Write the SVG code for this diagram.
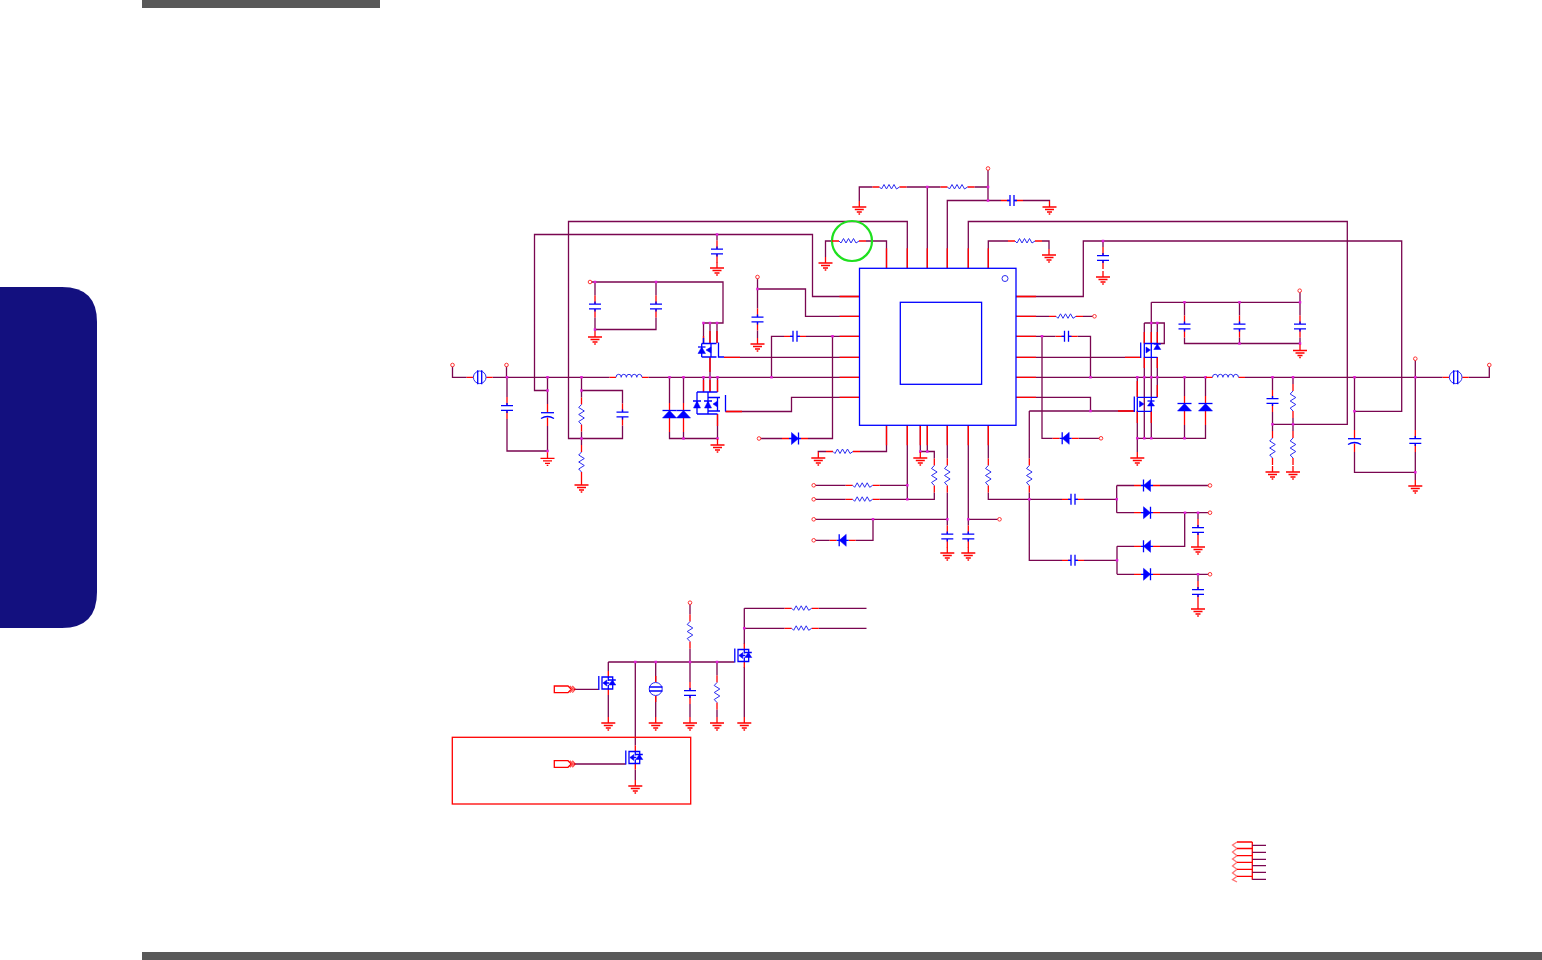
<svg xmlns="http://www.w3.org/2000/svg" width="1542" height="960" viewBox="0 0 1542 960">
<style>
.w{fill:none;stroke:#7a0650;stroke-width:1.300}
.r{fill:none;stroke:#f00;stroke-width:1.300}
.b{fill:none;stroke:#00f;stroke-width:1.300}
.z{fill:none;stroke:#2c2cf0;stroke-width:1}
.f{fill:#00f;stroke:#00f;stroke-width:.5}
.p{fill:#fff;stroke:#f33;stroke-width:1}
.j{fill:none;stroke:#e31fd8;stroke-width:2.500;stroke-linecap:square}
</style>
<defs>
<g id="rh"><path class="r" d="M-17 0H-10M10 0H17"/><path class="z" d="M-10 0L-8 2-5.500-2.500-3 2-.5-2.500 2 2 4.500-2.500 7 2 10 0"/></g>
<g id="rv"><path class="r" d="M0-17V-10M0 10V17"/><path class="z" d="M0-10L-2.800-7 2.800-3.500-2.800 0 2.800 3.500-2.800 7 0 10"/></g>
<g id="ch"><path class="r" d="M-11 0H-2.500M2.500 0H11"/><path class="b" d="M-2 0H-5M2 0H5M-2-5.500V5.500M2-5.500V5.500"/></g>
<g id="cv"><path class="r" d="M0-11V-2.500M0 2.500V11"/><path class="b" d="M0-2V-5M0 2V5M-6-2.300H6M-6 2.300H6"/></g>
<g id="cp"><path class="r" d="M0-11V-2.500M0 2.500V11"/><path class="b" d="M-6.500-2.300H6.500"/><path class="b" d="M-6.500 3.500Q0-.5 6.500 3.500"/></g>
<g id="gnd"><path class="r" d="M0-6V0M-7 0H7M-4.500 2.500H4.500M-2.500 5H2.500M-.8 7H.8"/></g>
<g id="dr"><path class="r" d="M-13 0H-6M6 0H13"/><path class="b" d="M-6 0H6M3.500-6V6"/><path class="f" d="M-3.500-6V6L3.500 0Z"/></g>
<g id="dl"><path class="r" d="M-13 0H-6M6 0H13"/><path class="b" d="M-6 0H6M-3.500-6V6"/><path class="f" d="M3.500-6V6L-3.500 0Z"/></g>
<g id="dv"><path class="r" d="M0-11V-3.500M0 4V18"/><path class="b" d="M-7-3.500H7"/><path class="f" d="M-7 4H7L0-3.500Z"/></g>
<g id="fuse"><path class="r" d="M-13 0H-6.500M6.500 0H13"/><circle r="6.300" fill="none" stroke="#2c2cf0" stroke-width="1"/><path class="b" d="M-2-7V7M2-7V7"/></g>
<g id="ind"><path class="r" d="M-19.500 0H-13M13 0H19.500"/><path class="z" d="M-13 0Q-13-3-10.300-3T-7.800 0Q-7.800-3-5.200-3T-2.600 0Q-2.600-3 0-3T2.600 0Q2.600-3 5.200-3T7.800 0Q7.800-3 10.300-3T13 0"/></g>
<g id="fet"><path class="r" d="M0-12V-6M0 6V12"/><path class="b" d="M-9.500-7V7"/><path class="b" d="M-6.300-6H4.400V6H-6.300ZM0-6V-2M0 6V2"/><path class="f" d="M-5.500 0L-1.500-3V3Z"/><path class="f" d="M.5 2H7.500L4-3Z"/><path class="b" d="M.5-3H7.500M-2 0H1"/></g>
<g id="port"><path class="r" d="M0-3.300H13.700L17 0 13.700 3.300H0Z"/><path class="r" d="M15.500-3.300L19 0 15.500 3.300M18-3.300L21 0 18 3.300" opacity=".7"/></g>
</defs>

<g id="frame">
<rect x="142" y="0" width="238" height="8" fill="#595959"/>
<rect x="142" y="952" width="1400" height="8" fill="#595959"/>
<path d="M0 287H62Q97 287 97 322V592Q97 628 62 628H0Z" fill="#13107f"/>
</g>

<g id="connectors">
<path class="w" d="M452.500 365V377.300H466.700M492.700 377.300H609.500M648.500 377.300H859.500M506.500 365V377.300M507 377.300V397M507 419V451H547.500M547.500 377.300V404M547.500 426V452M547.500 390.500H534.500V234.500H812.500V296.500H859.500M581.500 390.500H622.500V403.500M622.500 425.500V438.500H568.500V221.500H907.300V268.300M581.500 377.300V397.500M581.500 431.500V445M669.500 377.300V403M669.500 432V438.500H717.500M683.500 377.300V403M683.500 432V438.500M590 282H723V323H703.500V343M710 323V343M717 323V343M595 282V295.500M595 317.500V331M595 329.500H656V317.500M656 282V295.500M717 234.500V240.500M757.500 277V308.500M757.500 330.500V338M757.500 289H805.500V316.300H859.500M771.500 377.300V336.300H784M806 336.300H859.500M832.500 336.300V438.500H808M759 438.500H782M710 357.300V377.300M724 357.300H859.500M703.500 377.300V392M710 377.300V392M717.500 377.300V392M717.500 414V439M725.500 411.500H791.500V397.300H859.500"/>
<path class="w" d="M1016 377.300H1205.500M1245 377.300H1442.700M1468.700 377.300H1489.300V365M1016 357.300H1140.700M1016 397.300H1090.500V411M1029.300 411H1134.300M1029.300 411V458.500M1029.300 492.500V560.300H1062M1084 560.300H1117M1117 546.300V574.300M1117 546.300H1134M1160 546.300H1184.700V512.700M1117 574.300H1134M1160 574.300H1210M1198 574.300V581M988.300 425.300V458.500M988.300 492.500V499.300H1062M1084 499.300H1116.700M1116.700 485.500V512.700M1116.700 485.500H1134M1160 485.500H1210M1116.700 512.700H1134M1160 512.700H1210M1198 512.700V519M1016 296.500H1083.300V241H1401.700V411.300H1354.500M1016 316.300H1049M1083 316.300H1094.500M1016 336.300H1055.500M1077.500 336.300H1090.500V377.300M1042 336.300V438.300H1052.700M1078.700 438.300H1101M1103 241V247M886.500 268.300V241H866M832 241H825.500V257M927.300 268.300V187H940.500M974.500 187H988M927.300 187H906.500M872.500 187H859.300V201M988 168.500V200.500H1001M1023 200.500H1049.500V201M988 200.500H947.300V268.300M968.300 268.300V221.500H1347.300V424.300H1272.500M988.300 268.300V241H1008M1042 241H1049V249"/>
<path class="w" d="M886.500 425.300V451.500H860M826 451.500H818.300V452M907.300 425.300V499.300H879.700M845.700 499.300H813.700M907.300 485.300H879.700M845.700 485.300H813.700M907.300 499.300H934.300V492.500M934.300 458.500V451.500H920.300M920.300 425.300V452M927.300 425.300V451.500M947.300 425.300V458.500M947.300 492.500V525.500M813.700 519.300H947.300M873 519.300V540.300H855.700M829.700 540.300H813.700M968.300 425.300V525.500M968.300 519.300H999.500"/>
<path class="w" d="M1151.300 302.300V343.500M1151.300 302.300H1300M1151.300 357.300V397M1151.300 411V438.300M1144.300 323H1164.300V343.500H1157.300M1144.300 323V343.500M1157.300 323V343M1157.300 357.300V397.300M1144.300 357.300V438.300M1137.300 377.300V397M1137.300 411V452M1137.300 438.300H1205.500V425M1184.500 377.300V396M1184.500 425V438.300M1205.500 377.300V396M1184.500 302.300V315.500M1184.500 337.500V343.500H1300V337.500M1239.500 302.300V315.500M1239.500 337.500V343.500M1300 290.700V315.500M1300 337.500V344.500M1272.500 377.300V390M1272.500 412V431M1293 377.300V384M1293 418V431M1354.500 377.300V430M1354.500 452V472.300H1415.300M1415.300 358.700V430M1415.300 452V480"/>
<path class="w" d="M690 602.700V614.500M690 648.500V682M690 704V717M608.300 662H734.500M608.300 662V671M608.300 695V717M574 689.300H598.700M655.700 662V682M655.700 696V717M717 662V675.500M717 709.500V717M744.300 608.300V644M744.300 667V717M744.300 608.300H784.700M818.700 608.300H866.500M744.300 628.300H784.700M818.700 628.300H866.500M635.300 662V745.500M635.300 769.500V780M574 764H625.700"/>
<path class="r" d="M859.500 296.500H839.500M859.500 316.300H839.500M859.500 336.300H839.500M859.500 357.300H839.500M859.500 377.300H839.500M859.500 397.300H839.500M1016 296.500H1036M1016 316.300H1036M1016 336.300H1036M1016 357.300H1036M1016 377.300H1036M1016 397.300H1036M886.500 268.300V248.300M907.300 268.300V248.300M927.300 268.300V248.300M947.300 268.300V248.300M968.300 268.300V248.300M988.300 268.300V248.300M886.500 425.300V445.300M907.300 425.300V445.300M920.300 425.300V445.300M927.300 425.300V445.300M947.300 425.300V445.300M968.300 425.300V445.300M988.300 425.300V445.300M703.500 336V343M710 331V343M717 331V343M710 357.300V372M703.500 380V392M710 380V392M717.500 380V392M717.500 414V426M1144.300 332V343.500M1157.300 332V343M1151.300 332V343.500M1157.300 357.300V368M1144.300 357.300V368M1137.300 381V397M1157.300 385V397M1137.300 411V423M1151.300 411V423M1140.700 357.300H1125M1134.300 411H1118M725.500 411.500H742M724 357.300H740"/>
<path class="j" d="M507 377.300h0M547.500 377.300h0M581.500 377.300h0M669.500 377.300h0M683.500 377.300h0M703.500 377.300h0M710 377.300h0M717.500 377.300h0M771.500 377.300h0M547.500 390.500h0M581.500 390.500h0M581.500 438.500h0M547.500 451h0M683.500 438.500h0M717.500 438.500h0M595 282h0M656 282h0M595 329.500h0M703.500 323h0M710 323h0M717 323h0M717 234.500h0M757.500 289h0M832.500 336.300h0M927.300 187h0M988 187h0M988 200.500h0M1103 241h0M1042 336.300h0M1090.500 377.300h0M1090.500 411h0M1029.300 499.300h0M1116.700 499.300h0M1117 560.300h0M1185 512.700h0M1198 512.700h0M1198 574.300h0M907.300 485.300h0M907.300 499.300h0M920.300 451.500h0M927.300 451.500h0M947.300 519.300h0M873 519.300h0M968.300 519.300h0M1137.300 377.300h0M1144.300 377.300h0M1151.300 377.300h0M1157.300 377.300h0M1184.500 377.300h0M1205.500 377.300h0M1272.500 377.300h0M1293 377.300h0M1354.500 377.300h0M1415.300 377.300h0M1151.300 323h0M1157.300 323h0M1184.500 302.300h0M1239.500 302.300h0M1300 302.300h0M1239.500 343.500h0M1300 343.500h0M1137.300 438.300h0M1144.300 438.300h0M1151.300 438.300h0M1184.500 438.300h0M1272.500 424.300h0M1293 424.300h0M1354.500 411.300h0M1415.300 472.300h0M635.300 662h0M655.700 662h0M690 662h0M717 662h0M744.300 628.300h0"/>
</g>

<g id="chip"><rect x="859.500" y="268.300" width="156.500" height="157" fill="none" stroke="#00f" stroke-width="1.300"/><rect x="900.300" y="302.300" width="81.300" height="82" fill="none" stroke="#00f" stroke-width="1.300"/><circle cx="1005" cy="278.500" r="3" fill="none" stroke="#2c2cf0"/></g>
<g id="highlight"><circle cx="852" cy="241" r="20" fill="none" stroke="#1fe01f" stroke-width="2.200"/></g>
<g id="fuseL"><use href="#fuse" x="479.700" y="377.300"/></g>
<g id="fuseR"><use href="#fuse" x="1455.700" y="377.300"/></g>
<g id="indL"><use href="#ind" x="629" y="377.300"/></g>
<g id="indR"><use href="#ind" x="1225.500" y="377.300"/></g>

<g id="resistors">
<use href="#rv" x="581.500" y="414.500"/><use href="#rv" x="581.500" y="462"/>
<use href="#rh" x="849" y="241"/><use href="#rh" x="889.500" y="187"/><use href="#rh" x="957.500" y="187"/><use href="#rh" x="1025" y="241"/><use href="#rh" x="1066" y="316.300"/>
<use href="#rh" x="843" y="451.500"/><use href="#rh" x="862.700" y="485.300"/><use href="#rh" x="862.700" y="499.300"/>
<use href="#rv" x="934.300" y="475.500"/><use href="#rv" x="947.300" y="475.500"/><use href="#rv" x="988.300" y="475.500"/><use href="#rv" x="1029.300" y="475.500"/>
<use href="#rv" x="1272.500" y="448"/><use href="#rv" x="1293" y="401"/><use href="#rv" x="1293" y="448"/>
<use href="#rv" x="690" y="631.500"/><use href="#rv" x="717" y="692.500"/><use href="#rh" x="801.700" y="608.300"/><use href="#rh" x="801.700" y="628.300"/>
</g>
<g id="capacitors">
<use href="#cv" x="507" y="408"/><use href="#cp" x="547.500" y="415"/><use href="#cv" x="622.500" y="414.500"/><use href="#cv" x="595" y="306.500"/><use href="#cv" x="656" y="306.500"/><use href="#cv" x="717" y="251.500"/><use href="#cv" x="757.500" y="319.500"/><use href="#ch" x="795" y="336.300"/>
<use href="#ch" x="1012" y="200.500"/><use href="#cv" x="1103" y="258"/><use href="#ch" x="1066.500" y="336.300"/><use href="#cv" x="947.300" y="536.500"/><use href="#cv" x="968.300" y="536.500"/><use href="#ch" x="1073" y="499.300"/><use href="#ch" x="1073" y="560.300"/><use href="#cv" x="1198" y="530"/><use href="#cv" x="1198" y="592"/>
<use href="#cv" x="1184.500" y="326.500"/><use href="#cv" x="1239.500" y="326.500"/><use href="#cv" x="1300" y="326.500"/><use href="#cv" x="1272.500" y="401"/><use href="#cp" x="1354.500" y="441"/><use href="#cv" x="1415.300" y="441"/><use href="#cv" x="690" y="693"/>
</g>
<g id="diodes">
<use href="#dv" x="669.500" y="414"/><use href="#dv" x="683.500" y="414"/><use href="#dr" x="795" y="438.500"/><use href="#dl" x="1065.700" y="438.300"/><use href="#dl" x="842.700" y="540.300"/>
<use href="#dl" x="1147" y="485.500"/><use href="#dr" x="1147" y="512.700"/><use href="#dl" x="1147" y="546.300"/><use href="#dr" x="1147" y="574.300"/>
<use href="#dv" x="1184.500" y="407"/><use href="#dv" x="1205.500" y="407"/>
</g>
<g id="grounds">
<use href="#gnd" x="547.500" y="458.300"/><use href="#gnd" x="581.500" y="485"/><use href="#gnd" x="595" y="337"/><use href="#gnd" x="717" y="268"/><use href="#gnd" x="757.500" y="344"/><use href="#gnd" x="717.500" y="445"/>
<use href="#gnd" x="825.500" y="263"/><use href="#gnd" x="859.300" y="207"/><use href="#gnd" x="1049.500" y="207"/><use href="#gnd" x="1049" y="255"/><use href="#gnd" x="1103" y="277"/>
<use href="#gnd" x="818.300" y="458"/><use href="#gnd" x="920.300" y="458"/><use href="#gnd" x="947.300" y="553"/><use href="#gnd" x="968.300" y="553"/><use href="#gnd" x="1137.300" y="458"/><use href="#gnd" x="1198" y="547"/><use href="#gnd" x="1198" y="609"/>
<use href="#gnd" x="1300" y="350.500"/><use href="#gnd" x="1272.500" y="472"/><use href="#gnd" x="1293" y="472"/><use href="#gnd" x="1415.300" y="486"/>
<use href="#gnd" x="608.300" y="723"/><use href="#gnd" x="655.700" y="723"/><use href="#gnd" x="690" y="723"/><use href="#gnd" x="717" y="723"/><use href="#gnd" x="744.300" y="723"/><use href="#gnd" x="635.300" y="786"/>
</g>
<g id="pads">
<circle class="p" cx="452.500" cy="365" r="1.800"/><circle class="p" cx="506.500" cy="365" r="1.800"/><circle class="p" cx="590" cy="282" r="1.800"/><circle class="p" cx="757.500" cy="277" r="1.800"/><circle class="p" cx="759" cy="438.500" r="1.800"/><circle class="p" cx="988" cy="168.500" r="1.800"/><circle class="p" cx="1094.500" cy="316.300" r="1.800"/><circle class="p" cx="1101" cy="438.300" r="1.800"/>
<circle class="p" cx="813.700" cy="485.300" r="1.800"/><circle class="p" cx="813.700" cy="499.300" r="1.800"/><circle class="p" cx="813.700" cy="519.300" r="1.800"/><circle class="p" cx="813.700" cy="540.300" r="1.800"/><circle class="p" cx="999.500" cy="519.300" r="1.800"/>
<circle class="p" cx="1210" cy="485.500" r="1.800"/><circle class="p" cx="1210" cy="512.700" r="1.800"/><circle class="p" cx="1210" cy="574.300" r="1.800"/><circle class="p" cx="1299.700" cy="290.700" r="1.800"/><circle class="p" cx="1415.300" cy="358.700" r="1.800"/><circle class="p" cx="1489.300" cy="365" r="1.800"/><circle class="p" cx="690" cy="602.700" r="1.800"/>
</g>

<g id="mosfetL1"><path class="b" d="M701.700 343.500H716.500M701.700 357H716.500M701.700 343.500V357M711 343.500V357M703.500 338V343.500"/><path class="f" d="M698 353.500H705.500L701.700 347Z"/><path class="b" d="M698 347H705.500"/><path class="f" d="M706 350L711 347V353Z"/><path class="b" d="M718.500 342.500V357H724"/></g>
<g id="mosfetL2"><path class="b" d="M697 392H717.500M697 414H717.500M697 392V414M708 392V414M708 397.500H720M708 411H720"/><path class="f" d="M693.500 408H700.500L697 401ZM704.500 408H711.500L708 401Z"/><path class="f" d="M713 404L717.500 401V407Z"/><path class="b" d="M717.500 397.500V411M725.500 395V411.500"/><path class="b" d="M693 401H701M704 401H712"/></g>
<g id="mosfetR1"><path class="b" d="M1144.300 343.500H1157.300M1144.300 357.300H1157.300M1144.300 343.500V357.300M1151.300 343.500V357.300M1157.300 343V348"/><path class="f" d="M1153.800 349.500H1160.800L1157.300 344Z"/><path class="b" d="M1153.800 344H1160.800"/><path class="f" d="M1150.500 350L1146 347V353Z"/><path class="b" d="M1140.700 342.500V358"/></g>
<g id="mosfetR2"><path class="b" d="M1137.300 397.300H1157.300M1137.300 411.300H1151.300M1137.300 397.300V411.300M1151.300 397.300V411.300"/><path class="f" d="M1147.500 406H1154.500L1151 401Z"/><path class="b" d="M1147.500 401H1154.500"/><path class="f" d="M1144 404L1139.500 401V407Z"/><path class="b" d="M1134.300 396.500V412"/></g>
<g id="mosfetB1"><use href="#fet" x="608.300" y="683"/></g>
<g id="mosfetB2"><use href="#fet" x="635.300" y="757.500"/></g>
<g id="mosfetB3"><use href="#fet" x="744.300" y="655.500"/></g>
<g id="sensor"><path class="r" d="M655.700 676V682M655.700 696V702"/><circle cx="655.700" cy="689" r="6.500" fill="none" stroke="#2c2cf0"/><path class="b" d="M649 687H662.500M649 691H662.500"/></g>
<g id="port1"><use href="#port" x="554.300" y="689.300"/></g>
<g id="port2"><use href="#port" x="554.300" y="764"/></g>
<g id="redbox"><rect x="452.300" y="737.300" width="238.400" height="66.700" fill="none" stroke="#f00" stroke-width="1.300"/></g>
<g id="resArray">
<path class="r" d="M1252.300 842V879.700M1237 842H1252.300M1237 848.500H1252.300M1237 855.700H1252.300M1237 862.300H1252.300M1237 869.300H1252.300M1237 876.300H1252.300"/>
<path class="r" d="M1237 842L1232.500 845 1237 848.500 1232.500 852 1237 855.700 1232.500 859 1237 862.300 1232.500 866 1237 869.300 1232.500 873 1237 876.300 1232.500 879.700 1237 882" opacity=".55" stroke-width="1.500"/>
<path class="w" d="M1252.300 845.300H1266M1252.300 852.300H1266M1252.300 859.300H1266M1252.300 865.700H1266M1252.300 872.300H1266M1252.300 879.300H1266"/>
</g>
</svg>
